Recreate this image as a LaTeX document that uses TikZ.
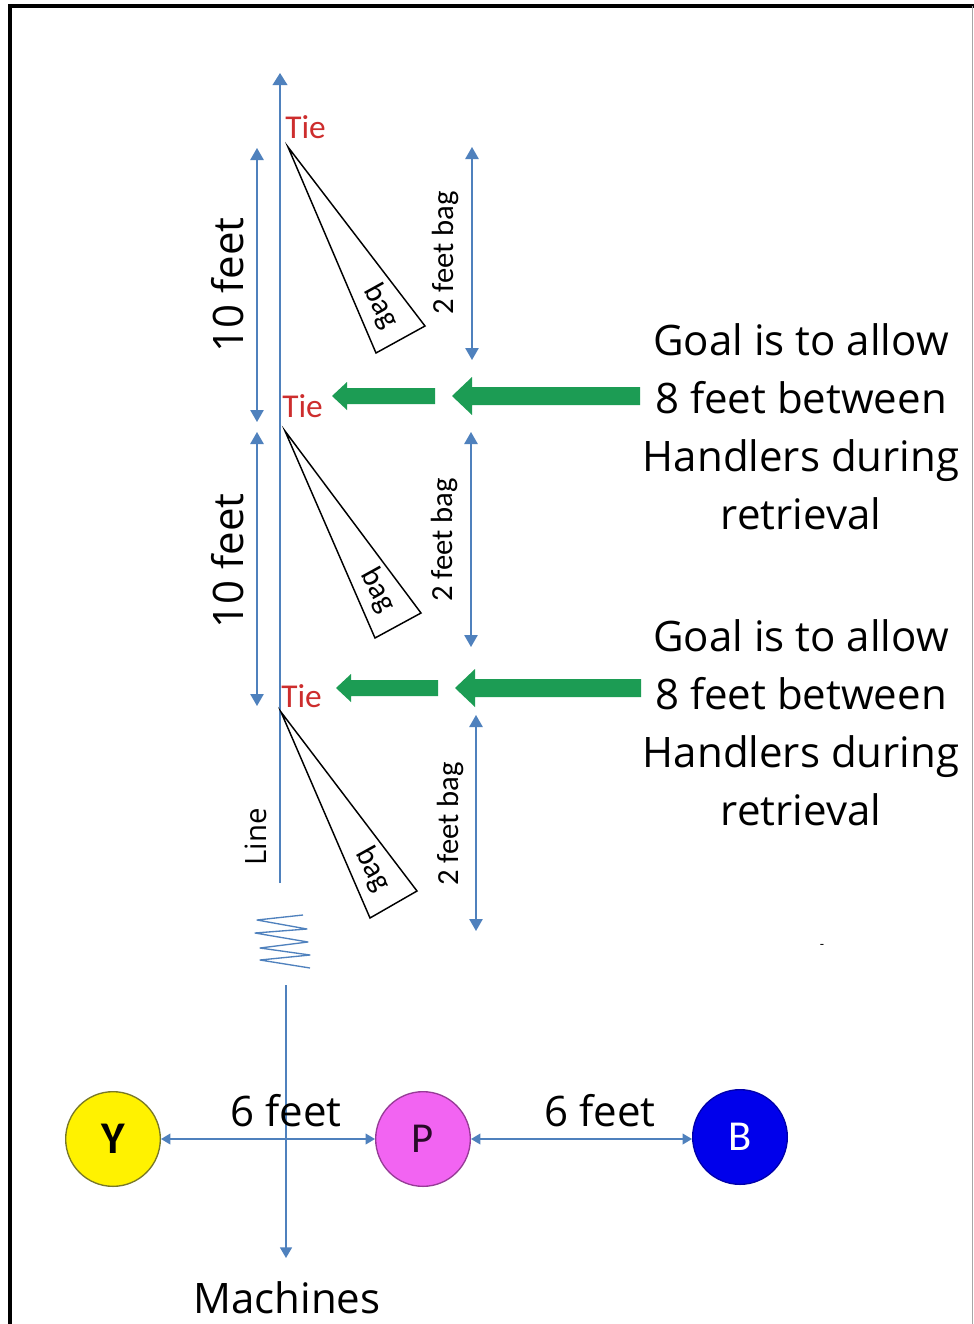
\documentclass[tikz,border=0pt]{standalone}
\usepackage{fontspec}
\setmainfont{Open Sans}
\newfontfamily\calfont{Carlito}
\usetikzlibrary{arrows.meta}
\definecolor{lblue}{RGB}{79,129,189}
\definecolor{tiered}{RGB}{205,45,45}
\definecolor{ggreen}{RGB}{28,156,84}
\definecolor{yolive}{RGB}{120,120,40}
\definecolor{ppink}{RGB}{242,100,242}
\definecolor{pborder}{RGB}{150,60,150}
\definecolor{bblue}{RGB}{0,0,235}
\definecolor{bborder}{RGB}{0,0,170}
\definecolor{pletter}{RGB}{40,10,40}
\begin{document}
\begin{tikzpicture}[x=0.75pt,y=-0.75pt,
  dim/.style={draw=lblue, line width=1.2pt, {Triangle[width=10pt,length=9pt]}-{Triangle[width=10pt,length=9pt]}},
  dimsmall/.style={draw=lblue, line width=1.1pt, {Triangle[width=8pt,length=7pt]}-{Triangle[width=8pt,length=7pt]}},
  bagtri/.style={draw=black, line width=1.1pt},
  garrow/.style={fill=ggreen, draw=none},
  tielbl/.style={text=tiered, font=\calfont\fontsize{25}{25}\selectfont, inner sep=0pt, anchor=west},
  bigtxt/.style={font=\fontsize{31.5}{43.5}\selectfont, inner sep=0pt},
  midtxt/.style={font=\calfont\fontsize{23}{23}\selectfont, inner sep=0pt, rotate=90},
  bagtxt/.style={font=\calfont\fontsize{23}{23}\selectfont, inner sep=0pt, rotate=-61},
  person/.style={circle, minimum size=71pt, inner sep=0pt, line width=1pt},
]
\useasboundingbox (0,0) rectangle (974,1324);
\fill[white] (0,0) rectangle (974,1324);
% frame
\draw[black, line width=3pt] (9.5,1324) -- (9.5,6) -- (974,6);
\draw[gray!70, line width=0.8pt] (972.5,6) -- (972.5,1324);

% main line
\coordinate (ltop) at (280,73);
\coordinate (lbot) at (280,883);
\draw[draw=lblue, line width=1.2pt, -{Triangle[width=11pt,length=9pt]}] (lbot) -- (ltop);

% 10 feet dimension arrows
\coordinate (ta1) at (257,148); \coordinate (tb1) at (257,422);
\coordinate (ta2) at (257,432); \coordinate (tb2) at (257,706);
\draw[dim] (ta1) -- (tb1);
\draw[dim] (ta2) -- (tb2);
\node[bigtxt, rotate=90] (ten1) at (228,285) {10 feet};
\node[bigtxt, rotate=90] (ten2) at (228,561) {10 feet};

% 2 feet bag arrows
\coordinate (fa1) at (472,147); \coordinate (fb1) at (472,360);
\coordinate (fa2) at (471,432); \coordinate (fb2) at (471,647);
\coordinate (fa3) at (476,715); \coordinate (fb3) at (476,931);
\draw[dim] (fa1) -- (fb1);
\draw[dim] (fa2) -- (fb2);
\draw[dim] (fa3) -- (fb3);
\node[midtxt] (two1) at (445,253) {2 feet bag};
\node[midtxt] (two2) at (444,540) {2 feet bag};
\node[midtxt] (two3) at (450,824) {2 feet bag};

% ties
\node[tielbl] (tie1) at (285,127) {Tie};
\node[tielbl] (tie2) at (282,406) {Tie};
\node[tielbl] (tie3) at (281,696) {Tie};

% bags
\draw[bagtri] (288,147) -- (376,353) -- (425,326) -- cycle;
\draw[bagtri] (285,431) -- (375,638) -- (421,613) -- cycle;
\draw[bagtri] (281,712) -- (370,918) -- (417,891) -- cycle;
\node[bagtxt] (bag1) at (381,306) {bag};
\node[bagtxt] (bag2) at (378,590) {bag};
\node[bagtxt] (bag3) at (373,869) {bag};

% green arrows
\fill[garrow] (332,396) -- (347,382) -- (347,388) -- (435,388) -- (435,404) -- (347,404) -- (347,410) -- cycle;
\fill[garrow] (452,396) -- (472,377) -- (472,387) -- (640,387) -- (640,405) -- (472,405) -- (472,415) -- cycle;
\fill[garrow] (336,688) -- (351,674) -- (351,680) -- (438,680) -- (438,696) -- (351,696) -- (351,702) -- cycle;
\fill[garrow] (455,688) -- (475,669) -- (475,679) -- (641,679) -- (641,697) -- (475,697) -- (475,707) -- cycle;

% goal texts
\node[bigtxt, align=center] (goal1) at (801,427) {Goal is to allow\\8 feet between\\Handlers during\\retrieval};
\node[bigtxt, align=center] (goal2) at (801,723) {Goal is to allow\\8 feet between\\Handlers during\\retrieval};

% line label
\node[font=\fontsize{22}{22}\selectfont, inner sep=0pt, rotate=90] (linelbl) at (256,837) {Line};

% spring
\draw[lblue, line width=1pt, line join=round] (303,915) -- (257,920) -- (307,929) -- (255,933) -- (308,942) -- (260,948) -- (310,955) -- (260,960) -- (310,968);

% machines line
\coordinate (mtop) at (286,985);
\coordinate (mbot) at (286,1258);
\draw[draw=lblue, line width=1.2pt, -{Triangle[width=9pt,length=8pt]}] (mtop) -- (mbot);
\node[bigtxt] (mach) at (287,1298) {Machines};

% handlers
\node[person, fill=yellow, draw=yolive] (Y) at (113,1139) {\calfont\bfseries\fontsize{34}{34}\selectfont Y};
\node[person, fill=ppink, draw=pborder] (P) at (423,1139) {\calfont\fontsize{32}{32}\selectfont\color{pletter}P};
\node[person, fill=bblue, draw=bborder] (B) at (740,1137) {\calfont\fontsize{32}{32}\selectfont\color{white}B};
\draw[dimsmall] (Y.east) -- (P.west);
\draw[dimsmall] (P.east) -- (P.east -| B.west);
\node[bigtxt] (six1) at (286,1111) {6 feet};
\node[bigtxt] (six2) at (600,1111) {6 feet};

% stray mark
\node[font=\fontsize{10}{10}\selectfont, inner sep=0pt] (dash) at (822,946) {-};
\end{tikzpicture}
\end{document}
